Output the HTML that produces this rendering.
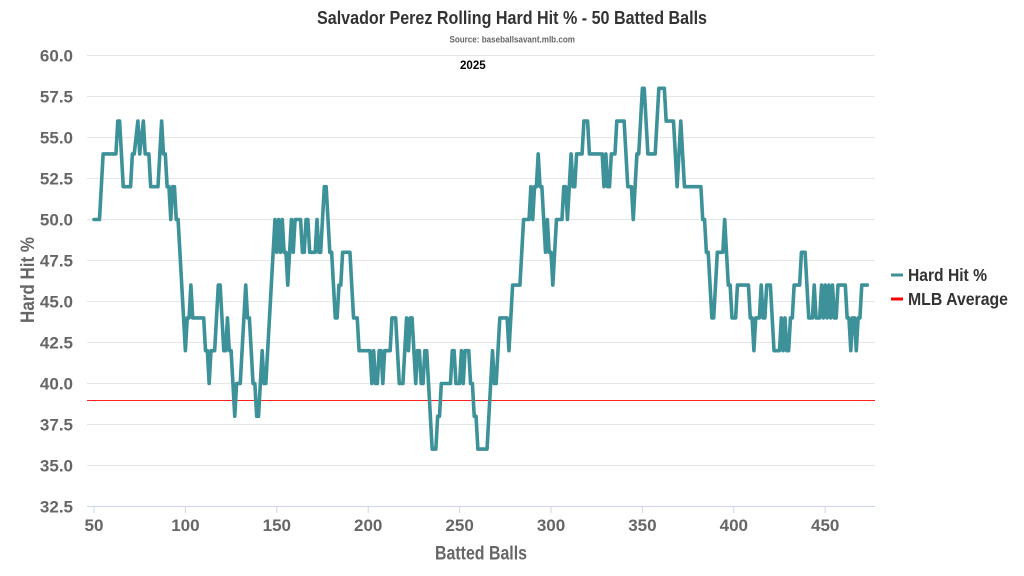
<!DOCTYPE html>
<html>
<head>
<meta charset="utf-8">
<style>
  html, body { margin: 0; padding: 0; background: #ffffff; }
  body { width: 1024px; height: 576px; overflow: hidden; }
  svg { display: block; font-family: "Liberation Sans", "DejaVu Sans", sans-serif; font-weight: bold; }
</style>
</head>
<body>
<svg width="1024" height="576" viewBox="0 0 1024 576" xmlns="http://www.w3.org/2000/svg">
  <rect x="0" y="0" width="1024" height="576" fill="#ffffff"/>

  <!-- Title -->
  <text x="512" y="24" font-size="18" fill="#333333" text-anchor="middle" textLength="390" lengthAdjust="spacingAndGlyphs">Salvador Perez Rolling Hard Hit % - 50 Batted Balls</text>
  <text x="512.2" y="42.7" font-size="9" fill="#666666" text-anchor="middle" textLength="125.5" lengthAdjust="spacingAndGlyphs">Source: baseballsavant.mlb.com</text>
  <text x="460" y="69" font-size="12" fill="#000000" textLength="25.7" lengthAdjust="spacingAndGlyphs">2025</text>

  <!-- Grid lines -->
  <g stroke="#e6e6e6" stroke-width="1">
    <line x1="87" y1="55.5" x2="875" y2="55.5"/>
    <line x1="87" y1="96.5" x2="875" y2="96.5"/>
    <line x1="87" y1="137.5" x2="875" y2="137.5"/>
    <line x1="87" y1="178.5" x2="875" y2="178.5"/>
    <line x1="87" y1="219.5" x2="875" y2="219.5"/>
    <line x1="87" y1="260.5" x2="875" y2="260.5"/>
    <line x1="87" y1="301.5" x2="875" y2="301.5"/>
    <line x1="87" y1="342.5" x2="875" y2="342.5"/>
    <line x1="87" y1="383.5" x2="875" y2="383.5"/>
    <line x1="87" y1="424.5" x2="875" y2="424.5"/>
    <line x1="87" y1="465.5" x2="875" y2="465.5"/>
  </g>

  <!-- X axis line and ticks -->
  <g stroke="#ccd6eb" stroke-width="1">
    <line x1="87" y1="506.5" x2="875" y2="506.5"/>
    <line x1="94" y1="506" x2="94" y2="513"/>
    <line x1="185.4" y1="506" x2="185.4" y2="513"/>
    <line x1="276.8" y1="506" x2="276.8" y2="513"/>
    <line x1="368.2" y1="506" x2="368.2" y2="513"/>
    <line x1="459.6" y1="506" x2="459.6" y2="513"/>
    <line x1="551" y1="506" x2="551" y2="513"/>
    <line x1="642.4" y1="506" x2="642.4" y2="513"/>
    <line x1="733.8" y1="506" x2="733.8" y2="513"/>
    <line x1="825.2" y1="506" x2="825.2" y2="513"/>
  </g>

  <!-- Y labels -->
  <g font-size="17" fill="#666666" text-anchor="end">
    <text x="73" y="61.5">60.0</text>
    <text x="73" y="102.5">57.5</text>
    <text x="73" y="143.5">55.0</text>
    <text x="73" y="184.5">52.5</text>
    <text x="73" y="225.5">50.0</text>
    <text x="73" y="266.5">47.5</text>
    <text x="73" y="307.5">45.0</text>
    <text x="73" y="348.5">42.5</text>
    <text x="73" y="389.5">40.0</text>
    <text x="73" y="430.5">37.5</text>
    <text x="73" y="471.5">35.0</text>
    <text x="73" y="512.5">32.5</text>
  </g>

  <!-- X labels -->
  <g font-size="17" fill="#666666" text-anchor="middle">
    <text x="94" y="531">50</text>
    <text x="185.4" y="531">100</text>
    <text x="276.8" y="531">150</text>
    <text x="368.2" y="531">200</text>
    <text x="459.6" y="531">250</text>
    <text x="551" y="531">300</text>
    <text x="642.4" y="531">350</text>
    <text x="733.8" y="531">400</text>
    <text x="825.2" y="531">450</text>
  </g>

  <!-- Axis titles -->
  <text x="481" y="559.3" font-size="19" fill="#666666" text-anchor="middle" textLength="92" lengthAdjust="spacingAndGlyphs">Batted Balls</text>
  <text transform="translate(34,280) rotate(-90)" x="0" y="0" font-size="19" fill="#666666" text-anchor="middle" textLength="86" lengthAdjust="spacingAndGlyphs">Hard Hit %</text>

  <!-- MLB average line -->
  <line x1="87" y1="400.5" x2="875" y2="400.5" stroke="#ff2020" stroke-width="1"/>

  <!-- Hard Hit % series (data coordinates: n, value) -->
  <g transform="matrix(1.828 0 0 -16.4 2.6 1039.5)">
    <polyline fill="none" stroke="#3d9198" stroke-width="3.6" stroke-linejoin="round" stroke-linecap="round" vector-effect="non-scaling-stroke"
      points="50,50 53,50 55,54 62,54 63,56 64,56 66,52 70,52 71,54 72,54 74,56 75,54 77,56 78,54 80,54 81,52 85,52 87,56 88,54 89,54 90,52 91,52 92,50 93,52 94,52 95,50 96,50 100,42 101,44 102,44 103,46 104,44 110,44 111,42 112,42 113,40 114,42 116,42 118,46 119,46 121,42 122,42 123,44 124,42 125,42 127,38 128,40 130,40 133,46 134,44 135,44 137,40 138,40 139,38 140,38 142,42 143,40 144,40 149,50 150,48 151,50 152,48 153,50 154,48 155,48 156,46 158,50 159,48 160,50 163,50 164,48 165,48 166,50 167,50 168,48 171,48 172,50 173,48 174,48 176,52 177,52 179,48 180,48 182,44 183,44 184,46 185,46 186,48 190,48 192,44 194,44 195,42 201,42 202,40 203,42 204,40 205,40 206,42 207,42 208,40 209,42 212,42 213,44 215,44 217,40 219,40 221,44 222,42 223,44 224,44 226,40 227,42 228,42 229,40 230,40 231,42 232,42 235,36 237,36 238,38 239,38 240,40 245,40 246,42 247,42 248,40 250,40 251,42 252,40 253,42 255,42 256,40 257,40 258,38 259,38 260,36 265,36 267,40 268,42 269,40 270,40 272,44 276,44 277,42 279,46 283,46 285,50 288,50 289,52 290,50 291,52 292,52 293,54 294,52 295,52 297,48 298,50 299,48 300,48 301,46 303,50 306,50 307,52 308,52 309,50 311,54 312,52 313,52 314,54 317,54 318,56 320,56 321,54 328,54 329,52 330,54 331,52 332,52 333,54 335,54 336,56 340,56 341,54 342,52 344,52 345,50 347,54 348,54 350,58 351,58 353,54 357,54 359,58 362,58 363,56 367,56 369,52 371,56 373,52 382,52 383,50 384,50 385,48 386,48 388,44 389,44 391,48 394,48 395,50 397,46 398,46 399,44 401,44 402,46 408,46 409,44 410,44 411,42 412,44 414,44 415,46 416,44 417,44 418,46 420,46 422,42 425,42 426,44 427,42 428,44 429,42 430,42 431,44 432,44 433,46 436,46 437,48 439,48 441,44 443,44 444,46 445,44 447,44 448,46 449,44 450,46 451,44 452,46 453,44 454,46 455,44 456,44 457,46 461,46 462,44 463,44 464,42 465,44 466,44 467,42 468,44 469,44 470,46 473,46"/>
  </g>

  <!-- Legend -->
  <line x1="891" y1="275" x2="903" y2="275" stroke="#3d9198" stroke-width="3"/>
  <text x="908" y="281" font-size="17.5" fill="#333333" textLength="79" lengthAdjust="spacingAndGlyphs">Hard Hit %</text>
  <line x1="891" y1="299" x2="903" y2="299" stroke="#ff0000" stroke-width="3"/>
  <text x="908" y="305" font-size="17.5" fill="#333333" textLength="100" lengthAdjust="spacingAndGlyphs">MLB Average</text>
</svg>
</body>
</html>
